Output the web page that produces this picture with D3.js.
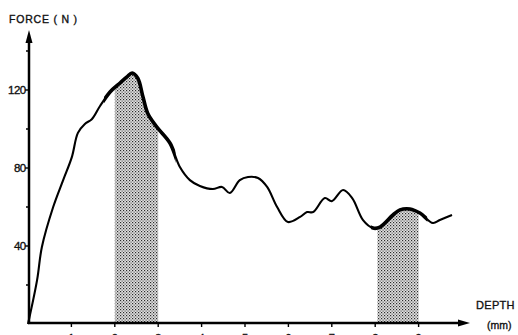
<!DOCTYPE html>
<html>
<head>
<meta charset="utf-8">
<script src="https://cdn.jsdelivr.net/npm/d3@7/dist/d3.min.js"></script>
<style>
  html, body { margin: 0; padding: 0; background: #fff; }
  svg { display: block; }
  text { font-family: "Liberation Sans", Arial, sans-serif; fill: #111; stroke: #111; stroke-width: 0.35px; }
</style>
</head>
<body>
<svg id="chart" width="518" height="335"></svg>
<script>
// Penetration force against depth
const depth = [0, 0.21, 0.32, 0.58, 0.81, 1.01, 1.15, 1.31, 1.47, 1.66, 1.89, 2.12, 2.28, 2.40, 2.53, 2.65, 2.76, 2.97, 3.27, 3.50, 3.73, 3.96, 4.26, 4.47, 4.65, 4.88, 5.07, 5.30, 5.51, 5.74, 5.99, 6.27, 6.43, 6.57, 6.84, 7.00, 7.26, 7.47, 7.72, 7.95, 8.11, 8.41, 8.57, 8.80, 9.03, 9.33, 9.49, 9.77];
const force = [0, 22.6, 39.5, 60, 73.8, 85.6, 98, 102.6, 105, 111.8, 119, 123.6, 126.7, 128.7, 126, 116.4, 108, 101, 92.8, 80.5, 73.8, 70.8, 69.2, 70.3, 67.2, 73.8, 75.4, 74.9, 70.3, 60, 52.3, 54.9, 57.4, 57.4, 64.6, 63, 68.7, 64.6, 53.3, 49.2, 49.7, 55.9, 58.5, 59, 56.9, 51.8, 53.3, 55.9];

// Shaded depth intervals
const bands = [[2, 3], [8.05, 9]];
// Stretches of the trace drawn in heavy line
const heavy = [[1.75, 3.4], [7.9, 9.2]];

const xTicks = [1, 2, 3, 4, 5, 6, 7, 8, 9];
const yMajor = [40, 80, 120];
const yMinor = [20, 60, 100, 140];

const svg = d3.select("#chart");
const x = d3.scaleLinear().domain([0, 9]).range([28, 418.6]);
const y = d3.scaleLinear().domain([0, 120]).range([324, 90]);

const pts = depth.map((d, i) => [d, force[i]]);

// dotted screen for the shaded bands
const defs = svg.append("defs");
const pat = defs.append("pattern").attr("id", "stipple")
  .attr("width", 3).attr("height", 3).attr("patternUnits", "userSpaceOnUse");
pat.append("rect").attr("width", 3).attr("height", 3).attr("fill", "#e2e2e2");
pat.append("rect").attr("x", 0).attr("y", 0).attr("width", 1.2).attr("height", 1.2).attr("fill", "#2a2a2a");
pat.append("rect").attr("x", 1.5).attr("y", 1.5).attr("width", 1.2).attr("height", 1.2).attr("fill", "#555");

bands.forEach((b, i) => {
  defs.append("clipPath").attr("id", "band" + i)
    .append("rect").attr("x", x(b[0])).attr("y", 0)
    .attr("width", x(b[1]) - x(b[0])).attr("height", 335);
});
heavy.forEach((b, i) => {
  defs.append("clipPath").attr("id", "heavy" + i)
    .append("rect").attr("x", x(b[0])).attr("y", 0)
    .attr("width", x(b[1]) - x(b[0])).attr("height", 335);
});

const curve = d3.curveCatmullRom.alpha(0.5);
const area = d3.area().x(d => x(d[0])).y0(y(0)).y1(d => y(d[1])).curve(curve);
const line = d3.line().x(d => x(d[0])).y(d => y(d[1])).curve(curve);

bands.forEach((b, i) => {
  svg.append("path").attr("d", area(pts)).attr("fill", "url(#stipple)")
    .attr("clip-path", `url(#band${i})`);
});

svg.append("path").attr("d", line(pts)).attr("fill", "none")
  .attr("stroke", "#000").attr("stroke-width", 2.1).attr("stroke-linejoin", "round");
heavy.forEach((b, i) => {
  svg.append("path").attr("d", line(pts)).attr("fill", "none")
    .attr("stroke", "#000").attr("stroke-width", 3.6).attr("stroke-linejoin", "round")
    .attr("clip-path", `url(#heavy${i})`);
});

// axes with arrowheads
const x0 = x(0), y0 = y(0);
svg.append("line").attr("x1", x0).attr("x2", 462).attr("y1", y0 - 1).attr("y2", y0 - 1)
  .attr("stroke", "#000").attr("stroke-width", 2.5);
svg.append("path").attr("d", `M470,${y0 - 1} L458,${y0 - 4.5} L458,${y0 + 2.5} Z`).attr("fill", "#000");
svg.append("line").attr("x1", x0 + 1).attr("x2", x0 + 1).attr("y1", y0).attr("y2", 40)
  .attr("stroke", "#000").attr("stroke-width", 2.5);
svg.append("path").attr("d", `M${x0 + 1},30 L${x0 - 2.5},43 L${x0 + 4.5},43 Z`).attr("fill", "#000");

// y ticks
svg.selectAll(".ymaj").data(yMajor).join("line")
  .attr("x1", x0 - 3).attr("x2", x0).attr("y1", d => y(d)).attr("y2", d => y(d))
  .attr("stroke", "#000").attr("stroke-width", 1.4);
svg.selectAll(".ymin").data(yMinor).join("line")
  .attr("x1", x0 - 2).attr("x2", x0).attr("y1", d => y(d)).attr("y2", d => y(d))
  .attr("stroke", "#000").attr("stroke-width", 1.4);
svg.selectAll(".ylab").data(yMajor).join("text")
  .attr("x", x0 - 2.5).attr("y", d => y(d) + 4).attr("text-anchor", "end")
  .attr("font-size", 11.5).attr("letter-spacing", -0.6).text(d => d);

// x ticks
svg.selectAll(".xt").data(xTicks).join("line")
  .attr("x1", d => x(d)).attr("x2", d => x(d)).attr("y1", y0).attr("y2", y0 + 3)
  .attr("stroke", "#000").attr("stroke-width", 1.4);
svg.selectAll(".xlab").data(xTicks).join("text")
  .attr("x", d => x(d)).attr("y", y0 + 18).attr("text-anchor", "middle")
  .attr("font-size", 11).text(d => d);

// axis titles
svg.append("text").attr("x", 9).attr("y", 23).attr("font-size", 10.5)
  .attr("letter-spacing", 0.8).text("FORCE ( N )");
svg.append("text").attr("x", 476).attr("y", 309).attr("font-size", 11)
  .attr("letter-spacing", 0.3).text("DEPTH");
svg.append("text").attr("x", 487).attr("y", 329).attr("font-size", 10.5)
  .text("(mm)");
</script>
</body>
</html>
